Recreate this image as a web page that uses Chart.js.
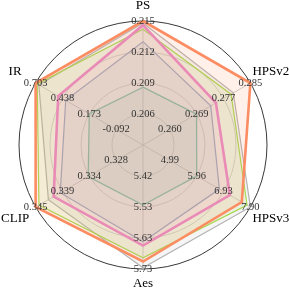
<!DOCTYPE html>
<html>
<head>
<meta charset="utf-8">
<title>Radar comparison</title>
<script src="https://cdn.jsdelivr.net/npm/chart.js@4.4.1/dist/chart.umd.min.js"></script>
<style>
    html, body { margin: 0; padding: 0; background: #ffffff; }
    #radarChart { display: block; }
</style>
</head>
<body>
<canvas id="radarChart" width="289" height="293"></canvas>
<script>
// Radar chart data
const axes = ['PS', 'HPSv2', 'HPSv3', 'Aes', 'CLIP', 'IR'];

// range of every axis (centre -> outer ring)
const axisMin = [0.203, 0.25167, 4.02, 5.3167, 0.32233, -0.357];
const axisMax = [0.215, 0.285, 7.90, 5.73, 0.345, 0.703];

// tick labels at 1/4, 2/4, 3/4 and 4/4 of the radius
const psTicks = ['0.206', '0.209', '0.212', '0.215'];
const hpsv2Ticks = ['0.260', '0.269', '0.277', '0.285'];
const hpsv3Ticks = ['4.99', '5.96', '6.93', '7.90'];
const aesTicks = ['5.42', '5.53', '5.63', '5.73'];
const clipTicks = ['0.328', '0.334', '0.339', '0.345'];
const irTicks = ['-0.092', '0.173', '0.438', '0.703'];
const tickLabels = [psTicks, hpsv2Ticks, hpsv3Ticks, aesTicks, clipTicks, irTicks];

// series values:   PS      HPSv2   HPSv3  Aes    CLIP    IR
const orangeValues = [0.2150, 0.2850, 7.59, 5.705, 0.3450, 0.703];
const pinkValues   = [0.2146, 0.2743, 7.16, 5.652, 0.3412, 0.480];
const greenValues  = [0.2142, 0.2790, 7.78, 5.693, 0.3443, 0.687];
const greyValues   = [0.2148, 0.2797, 7.90, 5.726, 0.3423, 0.671];
const blueValues   = [0.2130, 0.2727, 6.78, 5.639, 0.3398, 0.406];
const tealValues   = [0.2086, 0.2683, 5.96, 5.517, 0.3339, 0.173];

class RadarManager {
    constructor() {
        this.canvas = document.getElementById('radarChart');
        this.init();
    }

    init() {
        Chart.defaults.font.family = '"Liberation Serif", "Times New Roman", serif';
        this.chart = new Chart(this.canvas, {
            type: 'radar',
            data: {
                labels: axes,
                datasets: [
                    this.makeSeries('orange', orangeValues, '#fc8d62', 2.6),
                    this.makeSeries('pink', pinkValues, '#e78ac3', 2.6),
                    this.makeSeries('green', greenValues, '#a6d854', 1.2),
                    this.makeSeries('grey', greyValues, '#b3b3b3', 1.2),
                    this.makeSeries('blue', blueValues, '#8da0cb', 1.2),
                    this.makeSeries('teal', tealValues, '#66c2a5', 1.3)
                ]
            },
            options: {
                responsive: false,
                animation: false,
                layout: {
                    padding: { left: 19, right: 21, top: 21, bottom: 23 }
                },
                plugins: {
                    legend: { display: false },
                    tooltip: { enabled: false }
                },
                scales: {
                    r: {
                        min: 0,
                        max: 1,
                        ticks: { stepSize: 0.25, display: false },
                        pointLabels: { display: false },
                        grid: {
                            circular: true,
                            color: ctx => (ctx.tick && ctx.tick.value === 1) ? '#222222' : '#c8c8c8',
                            lineWidth: ctx => (ctx.tick && ctx.tick.value === 1) ? 0.9 : 0.8
                        },
                        angleLines: { color: '#c0c0c0', lineWidth: 0.8 }
                    }
                }
            },
            plugins: [this.labelPlugin()]
        });
    }

    // normalise each value against its own axis range
    normalise(values) {
        return values.map((v, i) => (v - axisMin[i]) / (axisMax[i] - axisMin[i]));
    }

    makeSeries(name, values, color, width) {
        return {
            label: name,
            data: this.normalise(values),
            borderColor: color,
            backgroundColor: color + '22',
            borderWidth: width,
            fill: true,
            pointRadius: 0,
            pointHoverRadius: 0,
            tension: 0
        };
    }

    // per-axis tick labels and axis names
    labelPlugin() {
        return {
            id: 'axisLabels',
            afterDatasetsDraw(chart) {
                const scale = chart.scales.r;
                const ctx = chart.ctx;
                ctx.save();
                ctx.textAlign = 'center';
                ctx.textBaseline = 'middle';

                ctx.font = '10.5px "Liberation Serif", serif';
                ctx.fillStyle = '#333333';
                tickLabels.forEach((labels, i) => {
                    labels.forEach((text, k) => {
                        const pos = scale.getPointPositionForValue(i, (k + 1) / 4);
                        ctx.fillText(text, pos.x, pos.y);
                    });
                });

                ctx.font = '13px "Liberation Serif", serif';
                ctx.fillStyle = '#000000';
                axes.forEach((name, i) => {
                    const edge = scale.getPointPosition(i, scale.drawingArea);
                    const side = Math.abs(edge.x - scale.xCenter) / scale.drawingArea;
                    const pos = scale.getPointPosition(i, scale.drawingArea + 15 + 10 * side);
                    ctx.fillText(name, pos.x, pos.y);
                });
                ctx.restore();
            }
        };
    }
}

document.addEventListener('DOMContentLoaded', () => {
    window.radarManager = new RadarManager();
});
</script>
</body>
</html>
